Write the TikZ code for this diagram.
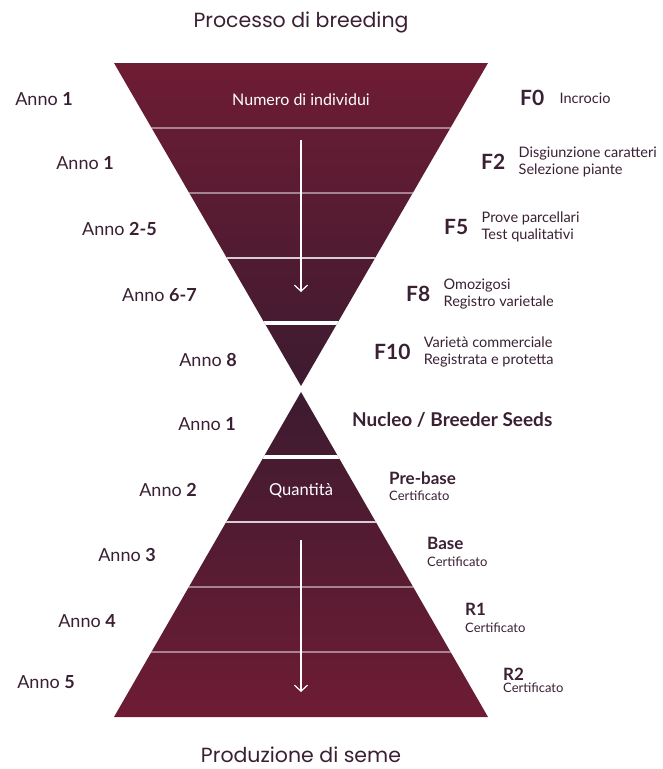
\documentclass[tikz,border=0pt]{standalone}
\usepackage{fontspec}
\setmainfont{Lato}
\newfontfamily\titlefont{Poppins}
\usetikzlibrary{arrows.meta,positioning}
\definecolor{wine}{HTML}{6E1C34}
\definecolor{plum}{HTML}{3D1B30}
\definecolor{ink}{HTML}{3A2033}
\definecolor{rule}{HTML}{D9CDD3}

\begin{document}
\begin{tikzpicture}[x=1pt,y=-1pt,>={Straight Barb[length=6pt,width=13pt]},
    anno/.style={anchor=east,inner sep=0pt,text=ink,font=\fontsize{18}{18}\selectfont},
    gen/.style={anchor=west,inner sep=0pt,text=ink,font=\fontsize{21}{21}\selectfont\bfseries},
    desc/.style={anchor=west,inner sep=0pt,align=left,text=ink,font=\fontsize{14.5}{17}\selectfont},
    stage/.style={anchor=west,inner sep=0pt,text=ink,font=\fontsize{17}{17}\selectfont\bfseries},
    cert/.style={anchor=west,inner sep=0pt,text=ink,font=\fontsize{13}{13}\selectfont},
    inside/.style={inner sep=0pt,text=white,font=\fontsize{16}{16}\selectfont},
    heading/.style={inner sep=0pt,text=ink,font=\titlefont\fontsize{20.5}{20.5}\selectfont},
    thin rule/.style={white,opacity=0.45,line width=1.2pt},
    mid rule/.style={rule,line width=2.5pt},
    thick rule/.style={white,line width=4pt},
    flow/.style={->,white,line width=1.2pt}]

    \useasboundingbox (0,0) rectangle (662,769);

    % breeding funnel
    \begin{scope}
        \clip (114,63) -- (488,63) -- (301,386) -- cycle;
        \shade[top color=wine,bottom color=plum] (100,63) rectangle (500,386);
        \draw[thin rule] (100,128) -- (500,128);
        \draw[thin rule] (100,193) -- (500,193);
        \draw[mid rule] (100,258) -- (500,258);
        \draw[thick rule] (100,323) -- (500,323);
    \end{scope}

    % seed pyramid
    \begin{scope}
        \clip (301,392) -- (488,717) -- (114,717) -- cycle;
        \shade[top color=plum,bottom color=wine] (100,392) rectangle (500,717);
        \draw[thick rule] (100,457) -- (500,457);
        \draw[mid rule] (100,522) -- (500,522);
        \draw[thin rule] (100,587) -- (500,587);
        \draw[thin rule] (100,652) -- (500,652);
    \end{scope}

    \node[heading] (titletop) at (301,22) {Processo di breeding};
    \node[heading] (titlebot) at (301,755) {Produzione di seme};

    \node[inside] (individui) at (301,100) {Numero di individui};
    \node[inside,font=\fontsize{16.5}{16.5}\selectfont] (quantita) at (301,491) {Quantità};

    \coordinate (arrowA) at (301,140);
    \coordinate (arrowB) at (301,292);
    \coordinate (arrowC) at (301,540);
    \coordinate (arrowD) at (301,692);
    \draw[flow] (arrowA) -- (arrowB);
    \draw[flow] (arrowC) -- (arrowD);

    % years
    \foreach \x/\y/\n/\name in {73/99/1/a, 114/163/1/b, 157/229/2-5/c, 197/295/6-7/d,
        237/360/8/e, 236/424/1/f, 197/490/2/g, 156/555/3/h, 116/621/4/i, 75/682/5/j}
        \node[anno] (anno\name) at (\x,\y) {Anno \textbf{\n}};

    % generations
    \node[gen] (f0) at (520,98) {F0};
    \node[gen] (f2) at (481,162) {F2};
    \node[gen] (f5) at (444,227) {F5};
    \node[gen] (f8) at (406,294) {F8};
    \node[gen] (f10) at (374,352) {F10};

    \node[desc,right=15pt of f0] (incrocio) {Incrocio};
    \node[desc,right=13pt of f2] (disgiunzione) {Disgiunzione caratteri\\Selezione piante};
    \node[desc,right=13pt of f5] (prove) {Prove parcellari\\Test qualitativi};
    \node[desc,right=13pt of f8] (omozigosi) {Omozigosi\\Registro varietale};
    \node[desc,right=13pt of f10] (varieta) {Varietà commerciale\\Registrata e protetta};

    % seed classes
    \node[stage,font=\fontsize{19}{19}\selectfont\bfseries] (nucleo) at (352,420) {Nucleo / Breeder Seeds};
    \node[stage] (prebase) at (389,478) {Pre-base};
    \node[cert] (certA) at (389,496) {Certificato};
    \node[stage] (base) at (427,543) {Base};
    \node[cert] (certB) at (427,562) {Certificato};
    \node[stage] (r1) at (465,609) {R1};
    \node[cert] (certC) at (465,628) {Certificato};
    \node[stage] (r2) at (503,674) {R2};
    \node[cert] (certD) at (503,688) {Certificato};
\end{tikzpicture}
\end{document}
